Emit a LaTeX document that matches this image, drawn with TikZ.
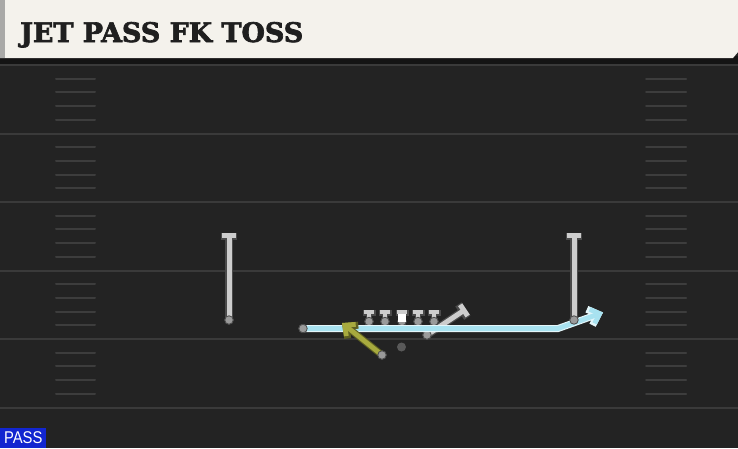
\documentclass[tikz,border=0pt]{standalone}
\usepackage{fontspec}
\usetikzlibrary{arrows.meta}
\newfontfamily\titlefont{DejaVu Serif}[BoldFont={DejaVu Serif Bold}, BoldFeatures={FakeBold=2.5}]
\newfontfamily\labelfont{Liberation Sans}
\definecolor{titlebg}{HTML}{F4F2EC}
\definecolor{titlestrip}{HTML}{A9A9A7}
\definecolor{fieldbg}{HTML}{232323}
\definecolor{yardcol}{HTML}{3A3A3A}
\definecolor{hashcol}{HTML}{3D3D3D}
\definecolor{routegray}{HTML}{CDCDCD}
\definecolor{routeedge}{HTML}{4A4A4A}
\definecolor{routeblue}{HTML}{A8E2F0}
\definecolor{blueedge}{HTML}{E4F6FA}
\definecolor{routeolive}{HTML}{A7AA3E}
\definecolor{oliveedge}{HTML}{5C5E22}
\definecolor{dotgray}{HTML}{9A9A9A}
\definecolor{passblue}{HTML}{1226D0}
\tikzset{
  yardline/.style={yardcol, line width=2pt},
  hashline/.style={hashcol, line width=2pt, line cap=round},
  playerdot/.style={circle, fill=dotgray, draw=routeedge, line width=0.8pt, minimum size=8.5pt, inner sep=0pt},
  qbdot/.style={circle, fill=gray!70!black, minimum size=9pt, inner sep=0pt},
  grayedge/.style={routeedge, line width=7.5pt, -{Bar[width=16pt]}},
  grayin/.style={routegray, line width=5pt, -{Bar[width=13.5pt]}},
  linemanedge/.style={routeedge, line width=6.5pt, -{Bar[width=13pt]}},
  linemanin/.style={routegray, line width=4.2pt, -{Bar[width=10.5pt]}},
  blueedgestyle/.style={blueedge, line width=7pt, line join=miter},
  bluein/.style={routeblue, line width=4.8pt, line join=miter},
  oliveedgestyle/.style={oliveedge, line width=7pt},
  olivein/.style={routeolive, line width=4.8pt},
  centersq/.style={fill=white, minimum size=7.5pt, inner sep=0pt},
  passlabel/.style={fill=passblue, text=white, inner sep=0pt, minimum width=46pt, minimum height=20pt, anchor=south west}
}
\begin{document}
\begin{tikzpicture}[x=1pt,y=-1pt]
\useasboundingbox (0,0) rectangle (738,448);
% field
\fill[fieldbg] (0,0) rectangle (738,448);
\foreach \yy in {65,133.5,202,270.5,339,407.5} {
  \draw[yardline] (0,\yy) -- (738,\yy);
}
\foreach \base in {65,133.5,202,270.5,339} {
  \foreach \k in {1,2,3,4} {
    \pgfmathsetmacro{\hy}{\base+13.7*\k}
    \draw[hashline] (56,\hy) -- (95,\hy);
    \draw[hashline] (646,\hy) -- (686,\hy);
  }
}
% title bar
\fill[black!92] (0,56) rectangle (738,64);
\fill[titlebg] (0,0) -- (738,0) -- (738,52) -- (733,58) -- (0,58) -- cycle;
\fill[titlestrip] (0,0) rectangle (5,58);
\node[anchor=base west, inner sep=0pt, text=black!88] (title) at (20,42)
  {\resizebox{283pt}{!}{\titlefont\bfseries JET PASS FK TOSS}};

% receivers (left / right)
\node[playerdot] (wrL) at (229,320) {};
\coordinate (wrLend) at (229,232.5);
\node[playerdot] (wrR) at (574,320) {};
\coordinate (wrRend) at (574,232.5);
\draw[grayedge] (wrL.center) -- (wrLend);
\draw[grayin] (wrL.center) -- (wrLend);
\draw[grayedge] (wrR.center) -- (wrRend);
\draw[grayin] (wrR.center) -- (wrRend);
\node[playerdot] at (wrL) {};

% linemen
\foreach \nm/\xx in {lt/369, lg/385, cc/402, rg/418, rt/434} {
  \node[playerdot] (\nm) at (\xx,321.5) {};
  \coordinate (\nm end) at (\xx,309.5);
  \draw[linemanedge] (\nm.center) -- (\nm end);
  \draw[linemanin] (\nm.center) -- (\nm end);
  \node[playerdot] at (\nm) {};
}
\node[centersq] (ctr) at (402,318) {};

% gray diagonal route
\node[playerdot] (rb) at (427,335) {};
\coordinate (rbend) at (466,309);
\draw[grayedge] (rb.center) -- (rbend);
\draw[grayin] (rb.center) -- (rbend);
\node[playerdot] at (rb) {};

% blue route
\node[playerdot] (jet) at (303,328.5) {};
\coordinate (jetbend) at (558,328.5);
\coordinate (jetend) at (603,312.5);
\draw[blueedgestyle, -{Straight Barb[length=9pt,width=17pt]}] (jet.center) -- (jetbend) -- (jetend);
\draw[bluein, -{Straight Barb[length=8pt,width=15pt]}] (jet.center) -- (jetbend) -- (jetend);
\node[playerdot] at (jet) {};
\node[playerdot] at (wrR) {};

% olive route
\node[playerdot] (qbr) at (382,355) {};
\coordinate (qbrend) at (342,323);
\draw[oliveedgestyle, -{Straight Barb[length=9pt,width=17pt]}] (qbr.center) -- (qbrend);
\draw[olivein, -{Straight Barb[length=8pt,width=15pt]}] (qbr.center) -- (qbrend);
\node[playerdot] at (qbr) {};

% QB
\node[qbdot] (qb) at (401.5,347) {};

% label
\node[passlabel] (pass) at (0,448) {\scalebox{0.87}[1]{\labelfont\fontsize{17pt}{17pt}\selectfont PASS}};
\end{tikzpicture}
\end{document}
